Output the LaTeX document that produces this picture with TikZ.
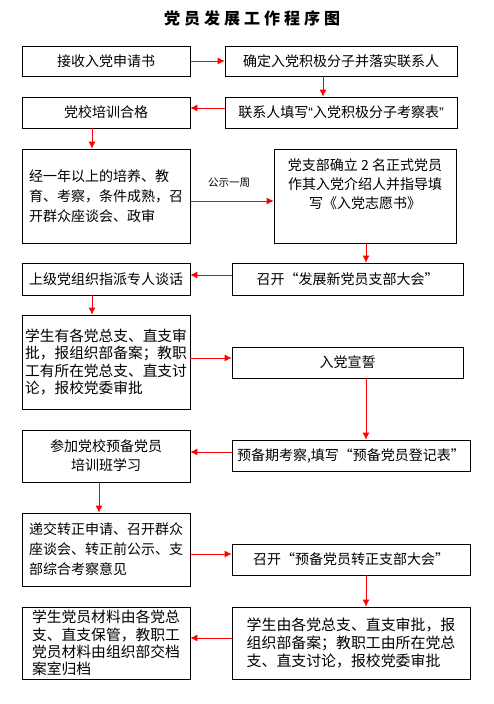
\documentclass[tikz,border=0pt]{standalone}
\usepackage{fontspec}
\setmainfont{Noto Sans CJK SC}
\newfontfamily\quotefont{Liberation Sans}
\usetikzlibrary{arrows.meta}
\newcommand{\boxfont}[2]{\fontsize{#1pt}{#2pt}\selectfont}
\newcommand{\lquo}{{\quotefont “}}
\newcommand{\rquo}{{\quotefont ”}}
\tikzset{
  box/.style={draw, line width=.8pt, rectangle, inner sep=0pt, align=center, font=\boxfont{14}{19}},
  arr/.style={red, line width=.8pt, -{Latex[length=7pt,width=7pt]}}
}

\begin{document}
\begin{tikzpicture}[x=1pt, y=-1pt]
\useasboundingbox (0,0) rectangle (494,704);
\node[font=\bfseries\boxfont{16}{16}] (title) at (252,18) {\addfontfeature{LetterSpace=25}党员发展工作程序图};

\node[box, minimum width=168pt, minimum height=30pt] (a1) at (106,61) {接收入党申请书};
\node[box, minimum width=232pt, minimum height=30pt] (b1) at (341,61) {确定入党积极分子并落实联系人};
\node[box, minimum width=168pt, minimum height=31pt] (a2) at (106,112.5) {党校培训合格};
\node[box, minimum width=232pt, minimum height=31pt] (b2) at (341,112.5) {联系人填写\lquo 入党积极分子考察表\rquo};
\node[box, minimum width=168pt, minimum height=94pt, align=left, font=\boxfont{14}{20}] (a3) at (106,196) {经一年以上的培养、教\\育、考察，条件成熟，召\\开群众座谈会、政审};
\node[box, minimum width=182pt, minimum height=94pt, text depth=24pt] (b3) at (365,196) {党支部确立 2 名正式党员\\作其入党介绍人并指导填\\写《入党志愿书》};
\node[box, minimum width=168pt, minimum height=32pt] (a4) at (106,279) {上级党组织指派专人谈话};
\node[box, minimum width=231pt, minimum height=32pt] (b4) at (347.5,279) {召开“发展新党员支部大会”};
\node[box, minimum width=168pt, minimum height=94pt, align=left, font=\boxfont{14.7}{17.5}] (a5) at (106,362) {学生有各党总支、直支审\\批，报组织部备案；教职\\工有所在党总支、直支讨\\论，报校党委审批};
\node[box, minimum width=231pt, minimum height=31pt] (b5) at (347.5,362.5) {入党宣誓};
\node[box, minimum width=168pt, minimum height=52pt] (a6) at (106,456) {参加党校预备党员\\培训班学习};
\node[box, minimum width=238pt, minimum height=31pt] (b6) at (351,455.5) {预备期考察,填写“预备党员登记表”};
\node[box, minimum width=168pt, minimum height=73pt, align=left, font=\boxfont{14}{20}] (a7) at (106,549.5) {递交转正申请、召开群众\\座谈会、转正前公示、支\\部综合考察意见};
\node[box, minimum width=238pt, minimum height=31pt] (b7) at (351,559.5) {召开“预备党员转正支部大会”};
\node[box, minimum width=168pt, minimum height=72pt, align=left, font=\boxfont{14.8}{17.3}] (a8) at (106,643) {学生党员材料由各党总\\支、直支保管，教职工\\党员材料由组织部交档\\案室归档};
\node[box, minimum width=238pt, minimum height=72pt, align=left, font=\boxfont{14.9}{18}] (b8) at (351,643) {学生由各党总支、直支审批，报\\组织部备案；教职工由所在党总\\支、直支讨论，报校党委审批};

\foreach \s/\t/\y in {a1/b1/61, a5/b5/358, a7/b7/554}
  \draw[arr] (\s.east |- 0,\y) -- (\t.west |- 0,\y);
\foreach \s/\t/\x in {b2/a2/108, b4/a4/275, b6/a6/452, b8/a8/638}
  \draw[arr] (\s.west |- 0,\x) -- (\t.east |- 0,\x);
\foreach \s/\t/\x in {b1/b2/323, a2/a3/92, b3/b4/366, a4/a5/92, b5/b6/366, a6/a7/99, b7/b8/366}
  \draw[arr] (\s.south -| \x,0) -- (\t.north -| \x,0);
\draw[arr] (a3.east |- 0,201) -- (b3.west |- 0,201) node[midway, above=10pt, xshift=-3pt, text=black, font=\boxfont{10.5}{12}] (gs) {公示一周};
\end{tikzpicture}
\end{document}
